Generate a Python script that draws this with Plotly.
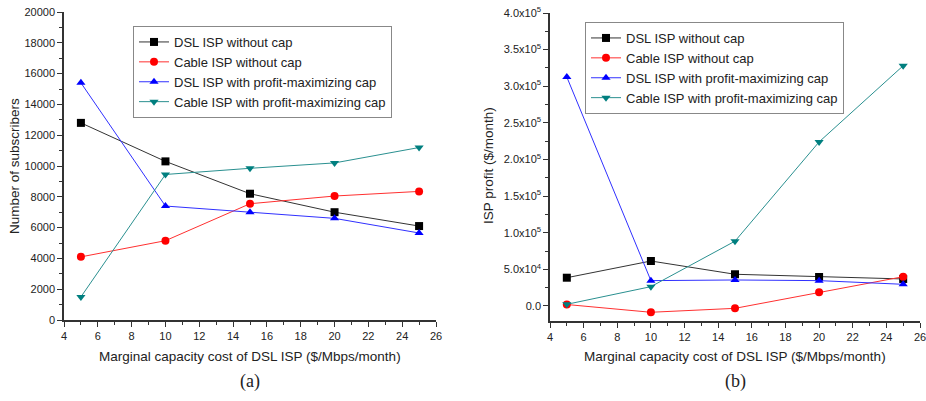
import plotly.graph_objects as go

x_cost = [5, 10, 15, 20, 25]
series_names = ["DSL ISP without cap", "Cable ISP without cap",
                "DSL ISP with profit-maximizing cap", "Cable ISP with profit-maximizing cap"]

subs_dsl_nocap = [12800, 10300, 8200, 7000, 6100]
subs_cable_nocap = [4100, 5150, 7550, 8050, 8350]
subs_dsl_cap = [15400, 7400, 7000, 6600, 5650]
subs_cable_cap = [1500, 9450, 9850, 10200, 11200]

profit_dsl_nocap = [38600, 61400, 43300, 39600, 36900]
profit_cable_nocap = [2000, -8600, -3200, 18700, 40000]
profit_dsl_cap = [312600, 34600, 35500, 34600, 29600]
profit_cable_cap = [2300, 26400, 88500, 224000, 328000]

profit_tickvals = [0, 50000, 100000, 150000, 200000, 250000, 300000, 350000, 400000]
profit_ticktext = ["0.0", "5.0x10<sup>4</sup>", "1.0x10<sup>5</sup>", "1.5x10<sup>5</sup>",
                   "2.0x10<sup>5</sup>", "2.5x10<sup>5</sup>", "3.0x10<sup>5</sup>",
                   "3.5x10<sup>5</sup>", "4.0x10<sup>5</sup>"]

x_title = "Marginal capacity cost of DSL ISP ($/Mbps/month)"
y_title_left = "Number of subscribers"
y_title_right = "ISP profit ($/month)"

line_colors = ["#333333", "#ff3030", "#3030ff", "#2a9090"]
marker_colors = ["#000000", "#ff0000", "#0000ff", "#007f7f"]
symbols = ["square", "circle", "triangle-up", "triangle-down"]

FONT = "Liberation Sans, Arial, sans-serif"
SERIF = "Liberation Serif, Times New Roman, serif"
fig = go.Figure()

left = [subs_dsl_nocap, subs_cable_nocap, subs_dsl_cap, subs_cable_cap]
right = [profit_dsl_nocap, profit_cable_nocap, profit_dsl_cap, profit_cable_cap]

for i in range(4):
    fig.add_trace(go.Scatter(
        x=x_cost, y=left[i], name=series_names[i], mode="lines+markers",
        line=dict(color=line_colors[i], width=1),
        marker=dict(symbol=symbols[i], color=marker_colors[i], size=8),
        xaxis="x", yaxis="y", legend="legend"))
for i in range(4):
    fig.add_trace(go.Scatter(
        x=x_cost, y=right[i], name=series_names[i], mode="lines+markers",
        line=dict(color=line_colors[i], width=1),
        marker=dict(symbol=symbols[i], color=marker_colors[i], size=8),
        xaxis="x2", yaxis="y2", legend="legend2"))

W, H = 926, 401
common_axis = dict(showline=True, linecolor="#333", linewidth=1.5, ticks="outside",
                   ticklen=5, tickwidth=1.2, tickcolor="#333", showgrid=False,
                   zeroline=False, automargin=False, ticklabeloverflow="allow",
                   tickfont=dict(family=FONT, size=11, color="#222"))

fig.update_layout(
    width=W, height=H, margin=dict(l=0, r=0, t=0, b=0),
    paper_bgcolor="white", plot_bgcolor="white",
    font=dict(family=FONT, color="#222"),
    xaxis=dict(domain=[64 / W, 436 / W], range=[4, 26], dtick=2, anchor="y",
               minor=dict(dtick=1, ticks="outside", ticklen=3, tickcolor="#333"),
               **common_axis),
    yaxis=dict(domain=[1 - 320 / H, 1 - 12 / H], range=[0, 20000], dtick=2000, anchor="x",
               tickformat="d",
               minor=dict(dtick=1000, ticks="outside", ticklen=3, tickcolor="#333"),
               **common_axis),
    xaxis2=dict(domain=[550 / W, 920 / W], range=[4, 26], dtick=2, anchor="y2",
                minor=dict(dtick=1, ticks="outside", ticklen=3, tickcolor="#333"),
                **common_axis),
    yaxis2=dict(domain=[1 - 321 / H, 1 - 13 / H], range=[-20500, 400000],
                tickvals=profit_tickvals, ticktext=profit_ticktext, anchor="x2",
                minor=dict(dtick=25000, ticks="outside", ticklen=3, tickcolor="#333"),
                **common_axis),
    legend=dict(x=133 / W, y=1 - 26 / H, xanchor="left", yanchor="top",
                bordercolor="#888", borderwidth=1, bgcolor="white",
                font=dict(family=FONT, size=13), tracegroupgap=0,
                itemwidth=30),
    legend2=dict(x=585 / W, y=1 - 22 / H, xanchor="left", yanchor="top",
                 bordercolor="#888", borderwidth=1, bgcolor="white",
                 font=dict(family=FONT, size=13), tracegroupgap=0,
                 itemwidth=30),
    annotations=[
        dict(text=x_title, x=250 / W, y=1 - 356 / H, xref="paper", yref="paper",
             xanchor="center", yanchor="middle",
             showarrow=False, font=dict(family=FONT, size=13.5)),
        dict(text=x_title, x=735 / W, y=1 - 356 / H, xref="paper", yref="paper",
             xanchor="center", yanchor="middle",
             showarrow=False, font=dict(family=FONT, size=13.5)),
        dict(text=y_title_left, x=14 / W, y=1 - 166 / H, xref="paper", yref="paper",
             xanchor="center", yanchor="middle", textangle=-90,
             showarrow=False, font=dict(family=FONT, size=13.5)),
        dict(text=y_title_right, x=488 / W, y=1 - 166 / H, xref="paper", yref="paper",
             xanchor="center", yanchor="middle", textangle=-90,
             showarrow=False, font=dict(family=FONT, size=13.5)),
        dict(text="(a)", x=250 / W, y=1 - 381 / H, xref="paper", yref="paper",
             xanchor="center", yanchor="middle",
             showarrow=False, font=dict(family=SERIF, size=18)),
        dict(text="(b)", x=735 / W, y=1 - 381 / H, xref="paper", yref="paper",
             xanchor="center", yanchor="middle",
             showarrow=False, font=dict(family=SERIF, size=18)),
    ],
)

fig.write_html("out.html")
